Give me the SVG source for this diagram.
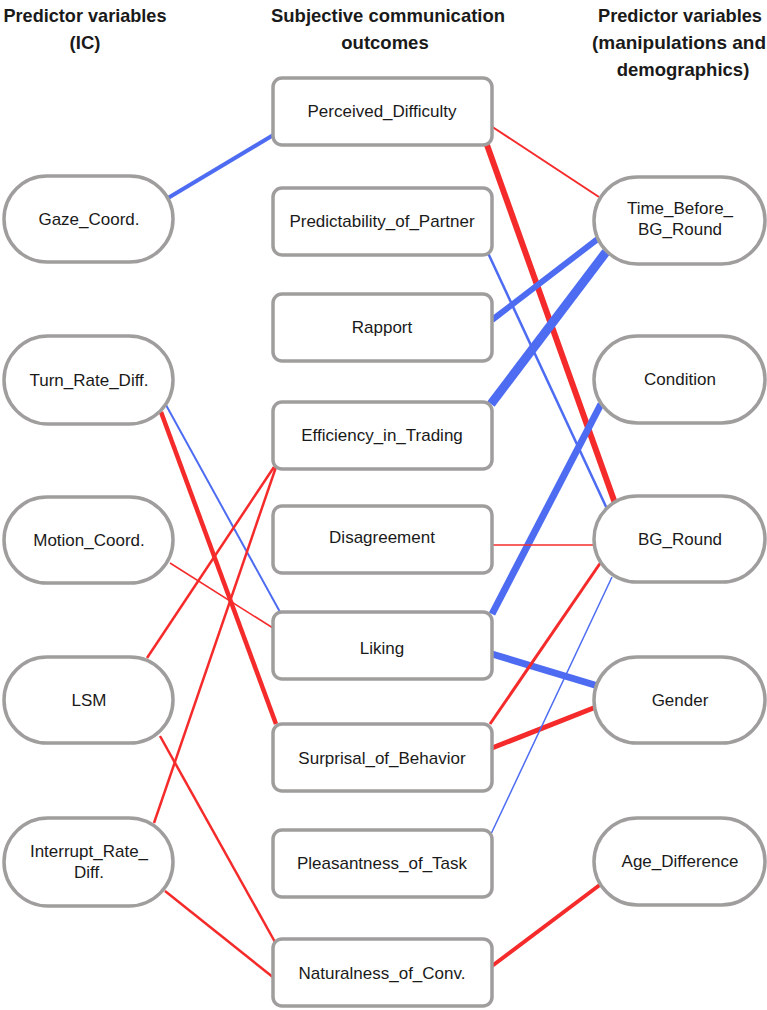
<svg xmlns="http://www.w3.org/2000/svg" width="767" height="1010" viewBox="0 0 767 1010">
<style>
.hdr{font-family:"Liberation Sans",Arial,sans-serif;font-weight:bold;font-size:18.5px;fill:#1a1a1a;text-anchor:middle}
.lbl{font-family:"Liberation Sans",Arial,sans-serif;font-size:17px;fill:#1a1a1a;text-anchor:middle}
.node{fill:#fff;stroke:#a09d9d;stroke-width:3.5}
.r{stroke:#f52b2b;fill:none}
.b{stroke:#4d6cf2;fill:none}
</style>
<rect width="767" height="1010" fill="#fff"/>
<g id="headers">
<text class="hdr" x="85" y="22" textLength="163" lengthAdjust="spacingAndGlyphs">Predictor variables</text>
<text class="hdr" x="85" y="49">(IC)</text>
<text class="hdr" x="388" y="22" textLength="234" lengthAdjust="spacingAndGlyphs">Subjective communication</text>
<text class="hdr" x="385" y="49">outcomes</text>
<text class="hdr" x="680" y="22" textLength="164" lengthAdjust="spacingAndGlyphs">Predictor variables</text>
<text class="hdr" x="679" y="49" textLength="174" lengthAdjust="spacingAndGlyphs">(manipulations and</text>
<text class="hdr" x="683" y="76">demographics)</text>
</g>
<g id="connectors" stroke-linecap="butt">
<line class="b" x1="168" y1="198" x2="275" y2="134" stroke-width="4"/>
<line class="r" x1="491" y1="126" x2="599" y2="197" stroke-width="2"/>
<line class="r" x1="487" y1="145" x2="616" y2="506" stroke-width="6"/>
<line class="b" x1="488" y1="253" x2="608" y2="511" stroke-width="2.5"/>
<line class="b" x1="492" y1="320" x2="599" y2="238" stroke-width="6"/>
<line class="b" x1="491" y1="404" x2="606" y2="252" stroke-width="9"/>
<line class="b" x1="492" y1="614" x2="601" y2="404" stroke-width="7"/>
<line class="b" x1="492" y1="654" x2="598" y2="686" stroke-width="7"/>
<line class="r" x1="492" y1="545" x2="596" y2="545" stroke-width="1.5"/>
<line class="r" x1="490" y1="724" x2="601" y2="562" stroke-width="3"/>
<line class="r" x1="492" y1="748" x2="596" y2="707" stroke-width="5"/>
<line class="b" x1="491" y1="834" x2="612" y2="577" stroke-width="1.5"/>
<line class="r" x1="492" y1="966" x2="601" y2="884" stroke-width="4"/>
<line class="b" x1="166" y1="405" x2="280" y2="612" stroke-width="2"/>
<line class="r" x1="161" y1="412" x2="276" y2="724" stroke-width="4.5"/>
<line class="r" x1="170" y1="563" x2="273" y2="628" stroke-width="1.5"/>
<line class="r" x1="147" y1="658" x2="274" y2="467" stroke-width="2.5"/>
<line class="r" x1="160" y1="736" x2="275" y2="942" stroke-width="2.5"/>
<line class="r" x1="154" y1="823" x2="276" y2="467" stroke-width="2.5"/>
<line class="r" x1="165" y1="891" x2="274" y2="978" stroke-width="2.5"/>
</g>
<g id="n-gaze"><rect class="node" x="4" y="176" width="169" height="86" rx="43"/><text class="lbl" x="89" y="225">Gaze_Coord.</text></g>
<g id="n-turn"><rect class="node" x="4" y="336" width="169" height="88" rx="44"/><text class="lbl" x="89" y="386">Turn_Rate_Diff.</text></g>
<g id="n-motion"><rect class="node" x="4" y="497" width="169" height="86" rx="43"/><text class="lbl" x="89" y="546">Motion_Coord.</text></g>
<g id="n-lsm"><rect class="node" x="4" y="657" width="169" height="86" rx="43"/><text class="lbl" x="89" y="706">LSM</text></g>
<g id="n-interrupt"><rect class="node" x="4" y="818" width="169" height="88" rx="44"/><text class="lbl" x="89" y="857">Interrupt_Rate_</text><text class="lbl" x="89" y="878">Diff.</text></g>
<g id="n-perceived"><rect class="node" x="273" y="78" width="219" height="67" rx="9"/><text class="lbl" x="382" y="117">Perceived_Difficulty</text></g>
<g id="n-predictability"><rect class="node" x="273" y="188" width="219" height="67" rx="9"/><text class="lbl" x="382" y="227">Predictability_of_Partner</text></g>
<g id="n-rapport"><rect class="node" x="273" y="294" width="219" height="67" rx="9"/><text class="lbl" x="382" y="333">Rapport</text></g>
<g id="n-efficiency"><rect class="node" x="273" y="402" width="219" height="67" rx="9"/><text class="lbl" x="382" y="441">Efficiency_in_Trading</text></g>
<g id="n-disagreement"><rect class="node" x="273" y="506" width="219" height="67" rx="9"/><text class="lbl" x="382" y="543">Disagreement</text></g>
<g id="n-liking"><rect class="node" x="273" y="612" width="219" height="67" rx="9"/><text class="lbl" x="382" y="654">Liking</text></g>
<g id="n-surprisal"><rect class="node" x="273" y="724" width="219" height="67" rx="9"/><text class="lbl" x="382" y="764">Surprisal_of_Behavior</text></g>
<g id="n-pleasantness"><rect class="node" x="273" y="830" width="219" height="67" rx="9"/><text class="lbl" x="382" y="869">Pleasantness_of_Task</text></g>
<g id="n-naturalness"><rect class="node" x="273" y="939" width="219" height="67" rx="9"/><text class="lbl" x="382" y="979">Naturalness_of_Conv.</text></g>
<g id="n-time"><rect class="node" x="594" y="177" width="171" height="87" rx="43.5"/><text class="lbl" x="680" y="214">Time_Before_</text><text class="lbl" x="680" y="235">BG_Round</text></g>
<g id="n-condition"><rect class="node" x="594" y="336" width="171" height="87" rx="43.5"/><text class="lbl" x="680" y="385">Condition</text></g>
<g id="n-bground"><rect class="node" x="594" y="496" width="171" height="86" rx="43"/><text class="lbl" x="680" y="545">BG_Round</text></g>
<g id="n-gender"><rect class="node" x="594" y="657" width="171" height="86" rx="43"/><text class="lbl" x="680" y="706">Gender</text></g>
<g id="n-age"><rect class="node" x="594" y="818" width="171" height="87" rx="43.5"/><text class="lbl" x="680" y="867">Age_Difference</text></g>
</svg>
